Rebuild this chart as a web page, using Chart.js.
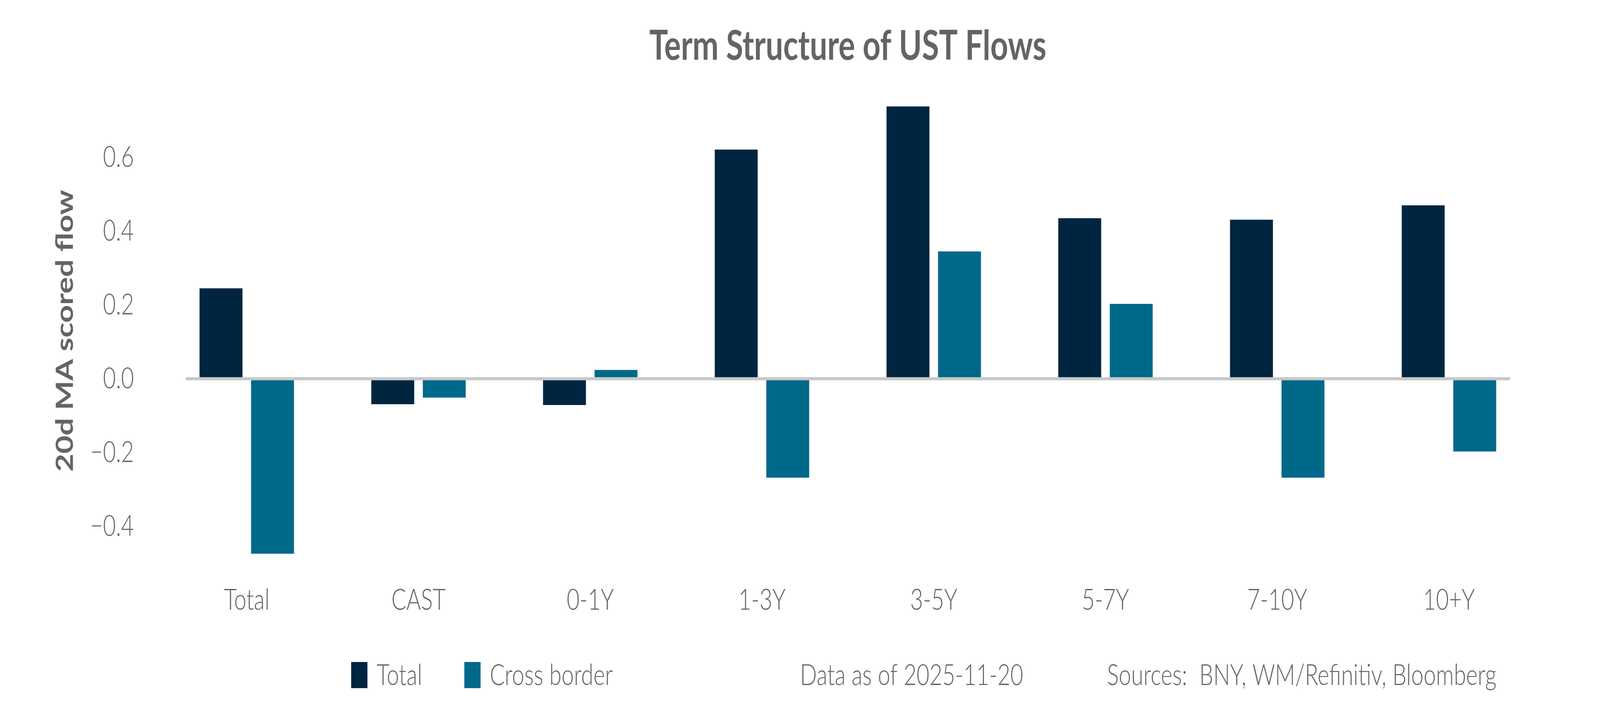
<!DOCTYPE html>
<html>
<head>
<meta charset="utf-8">
<title>Term Structure of UST Flows</title>
<script src="https://cdn.jsdelivr.net/npm/chart.js@4.4.1/dist/chart.umd.min.js"></script>
<style>
  html, body { margin: 0; padding: 0; background: #fff; overflow: hidden; }
  #wrap { width: 5400px; height: 1800px; transform-origin: 0 0; }
</style>
</head>
<body>
<div id="wrap"><canvas id="myChart" width="5400" height="1800"></canvas></div>
<script>
// values
const categories = ['Total', 'CAST', '0-1Y', '1-3Y', '3-5Y', '5-7Y', '7-10Y', '10+Y'];
const totalFlow = [0.245, -0.069, -0.071, 0.621, 0.738, 0.435, 0.431, 0.470];
const crossBorderFlow = [-0.474, -0.051, 0.024, -0.268, 0.345, 0.203, -0.268, -0.197];
const seriesNames = ['Total', 'Cross border'];
const yTicks = [-0.4, -0.2, 0, 0.2, 0.4, 0.6];
const notes = ['Data as of 2025-11-20', 'Sources:  BNY, WM/Refinitiv, Bloomberg'];

const navy = '#002540';
const teal = '#00698a';
const grey = '#646464';
const fontFamily = 'Lato';

// chart is laid out at 5400x1800; the browser window can come out narrower
// (it is capped at 4096 wide), so stretch the page onto the real viewport
const sx = window.innerWidth / 5400;
const sy = window.innerHeight / 1800;
document.getElementById('wrap').style.transform = `scale(${sx}, ${sy})`;

const fmtTick = (v) => (v < 0 ? '\u2212' : '') + Math.abs(v).toFixed(1);

// zero line, a bit shorter than the category band like the original
const zeroLine = {
  id: 'zeroLine',
  afterDatasetsDraw(chart, args, opts) {
    const { ctx, chartArea } = chart;
    const y = chart.scales.y.getPixelForValue(0);
    ctx.save();
    ctx.strokeStyle = opts.color;
    ctx.lineWidth = opts.width;
    ctx.beginPath();
    ctx.moveTo(chartArea.left + opts.inset, y);
    ctx.lineTo(chartArea.right - opts.inset, y);
    ctx.stroke();
    ctx.restore();
  },
};

// legend + footnotes along the bottom row
const footer = {
  id: 'footer',
  afterDraw(chart, args, opts) {
    const ctx = chart.ctx;
    ctx.save();
    ctx.font = `${opts.weight} ${opts.size}px ${fontFamily}`;
    ctx.textBaseline = 'alphabetic';
    ctx.textAlign = 'left';
    chart.data.datasets.forEach((ds, i) => {
      const x = opts.legendX[i];
      ctx.fillStyle = ds.backgroundColor;
      ctx.fillRect(x, opts.boxTop, opts.boxW, opts.boxH);
      ctx.fillStyle = opts.color;
      ctx.fillText(ds.label, x + opts.boxW + opts.gap, opts.baseline);
    });
    ctx.fillStyle = opts.color;
    notes.forEach((t, i) => ctx.fillText(t, opts.notesX[i], opts.baseline));
    ctx.restore();
  },
};

const chart1 = document.getElementById('myChart').getContext('2d');

const myChart = new Chart(chart1, {
  type: 'bar',
  data: {
    labels: categories,
    datasets: [
      {
        label: seriesNames[0],
        data: totalFlow,
        backgroundColor: navy,
        barPercentage: 0.833,
        categoryPercentage: 0.6,
      },
      {
        label: seriesNames[1],
        data: crossBorderFlow,
        backgroundColor: teal,
        barPercentage: 0.833,
        categoryPercentage: 0.6,
      },
    ],
  },
  options: {
    responsive: false,
    devicePixelRatio: 1,
    animation: false,
    layout: {
      padding: { top: 0, left: 0, right: 220, bottom: 210 },
    },
    scales: {
      x: {
        afterFit: (s) => { s.height = 110; },
        grid: { display: false, drawTicks: false },
        border: { display: false },
        ticks: {
          padding: 12,
          color: grey,
          font: { family: fontFamily, size: 75, weight: 300 },
        },
      },
      y: {
        min: -0.54,
        max: 0.8,
        afterFit: (s) => { s.width = 543; },
        afterBuildTicks: (s) => { s.ticks = yTicks.map((v) => ({ value: v })); },
        grid: { display: false, drawTicks: false },
        border: { display: false },
        ticks: {
          padding: 91,
          color: grey,
          font: { family: fontFamily, size: 75, weight: 300 },
          callback: (v) => fmtTick(v),
        },
        title: {
          display: true,
          text: '20d MA scored flow',
          color: grey,
          font: { family: fontFamily, size: 80, weight: 'bold' },
          padding: { top: 172, bottom: 0 },
        },
      },
    },
    plugins: {
      legend: { display: false },
      tooltip: { enabled: false },
      title: {
        display: true,
        text: 'Term Structure of UST Flows',
        fullSize: false,
        align: 'center',
        color: grey,
        font: { family: fontFamily, size: 105, weight: 'bold' },
        padding: { top: 56, bottom: 32 },
      },
      zeroLine: { color: '#c8c8c8', width: 8, inset: 84 },
      footer: {
        legendX: [1185, 1567],
        notesX: [2700, 3736],
        boxTop: 1695,
        boxW: 55,
        boxH: 67,
        gap: 31,
        baseline: 1754,
        size: 75,
        weight: 300,
        color: grey,
      },
    },
  },
  plugins: [zeroLine, footer],
});
</script>
</body>
</html>
